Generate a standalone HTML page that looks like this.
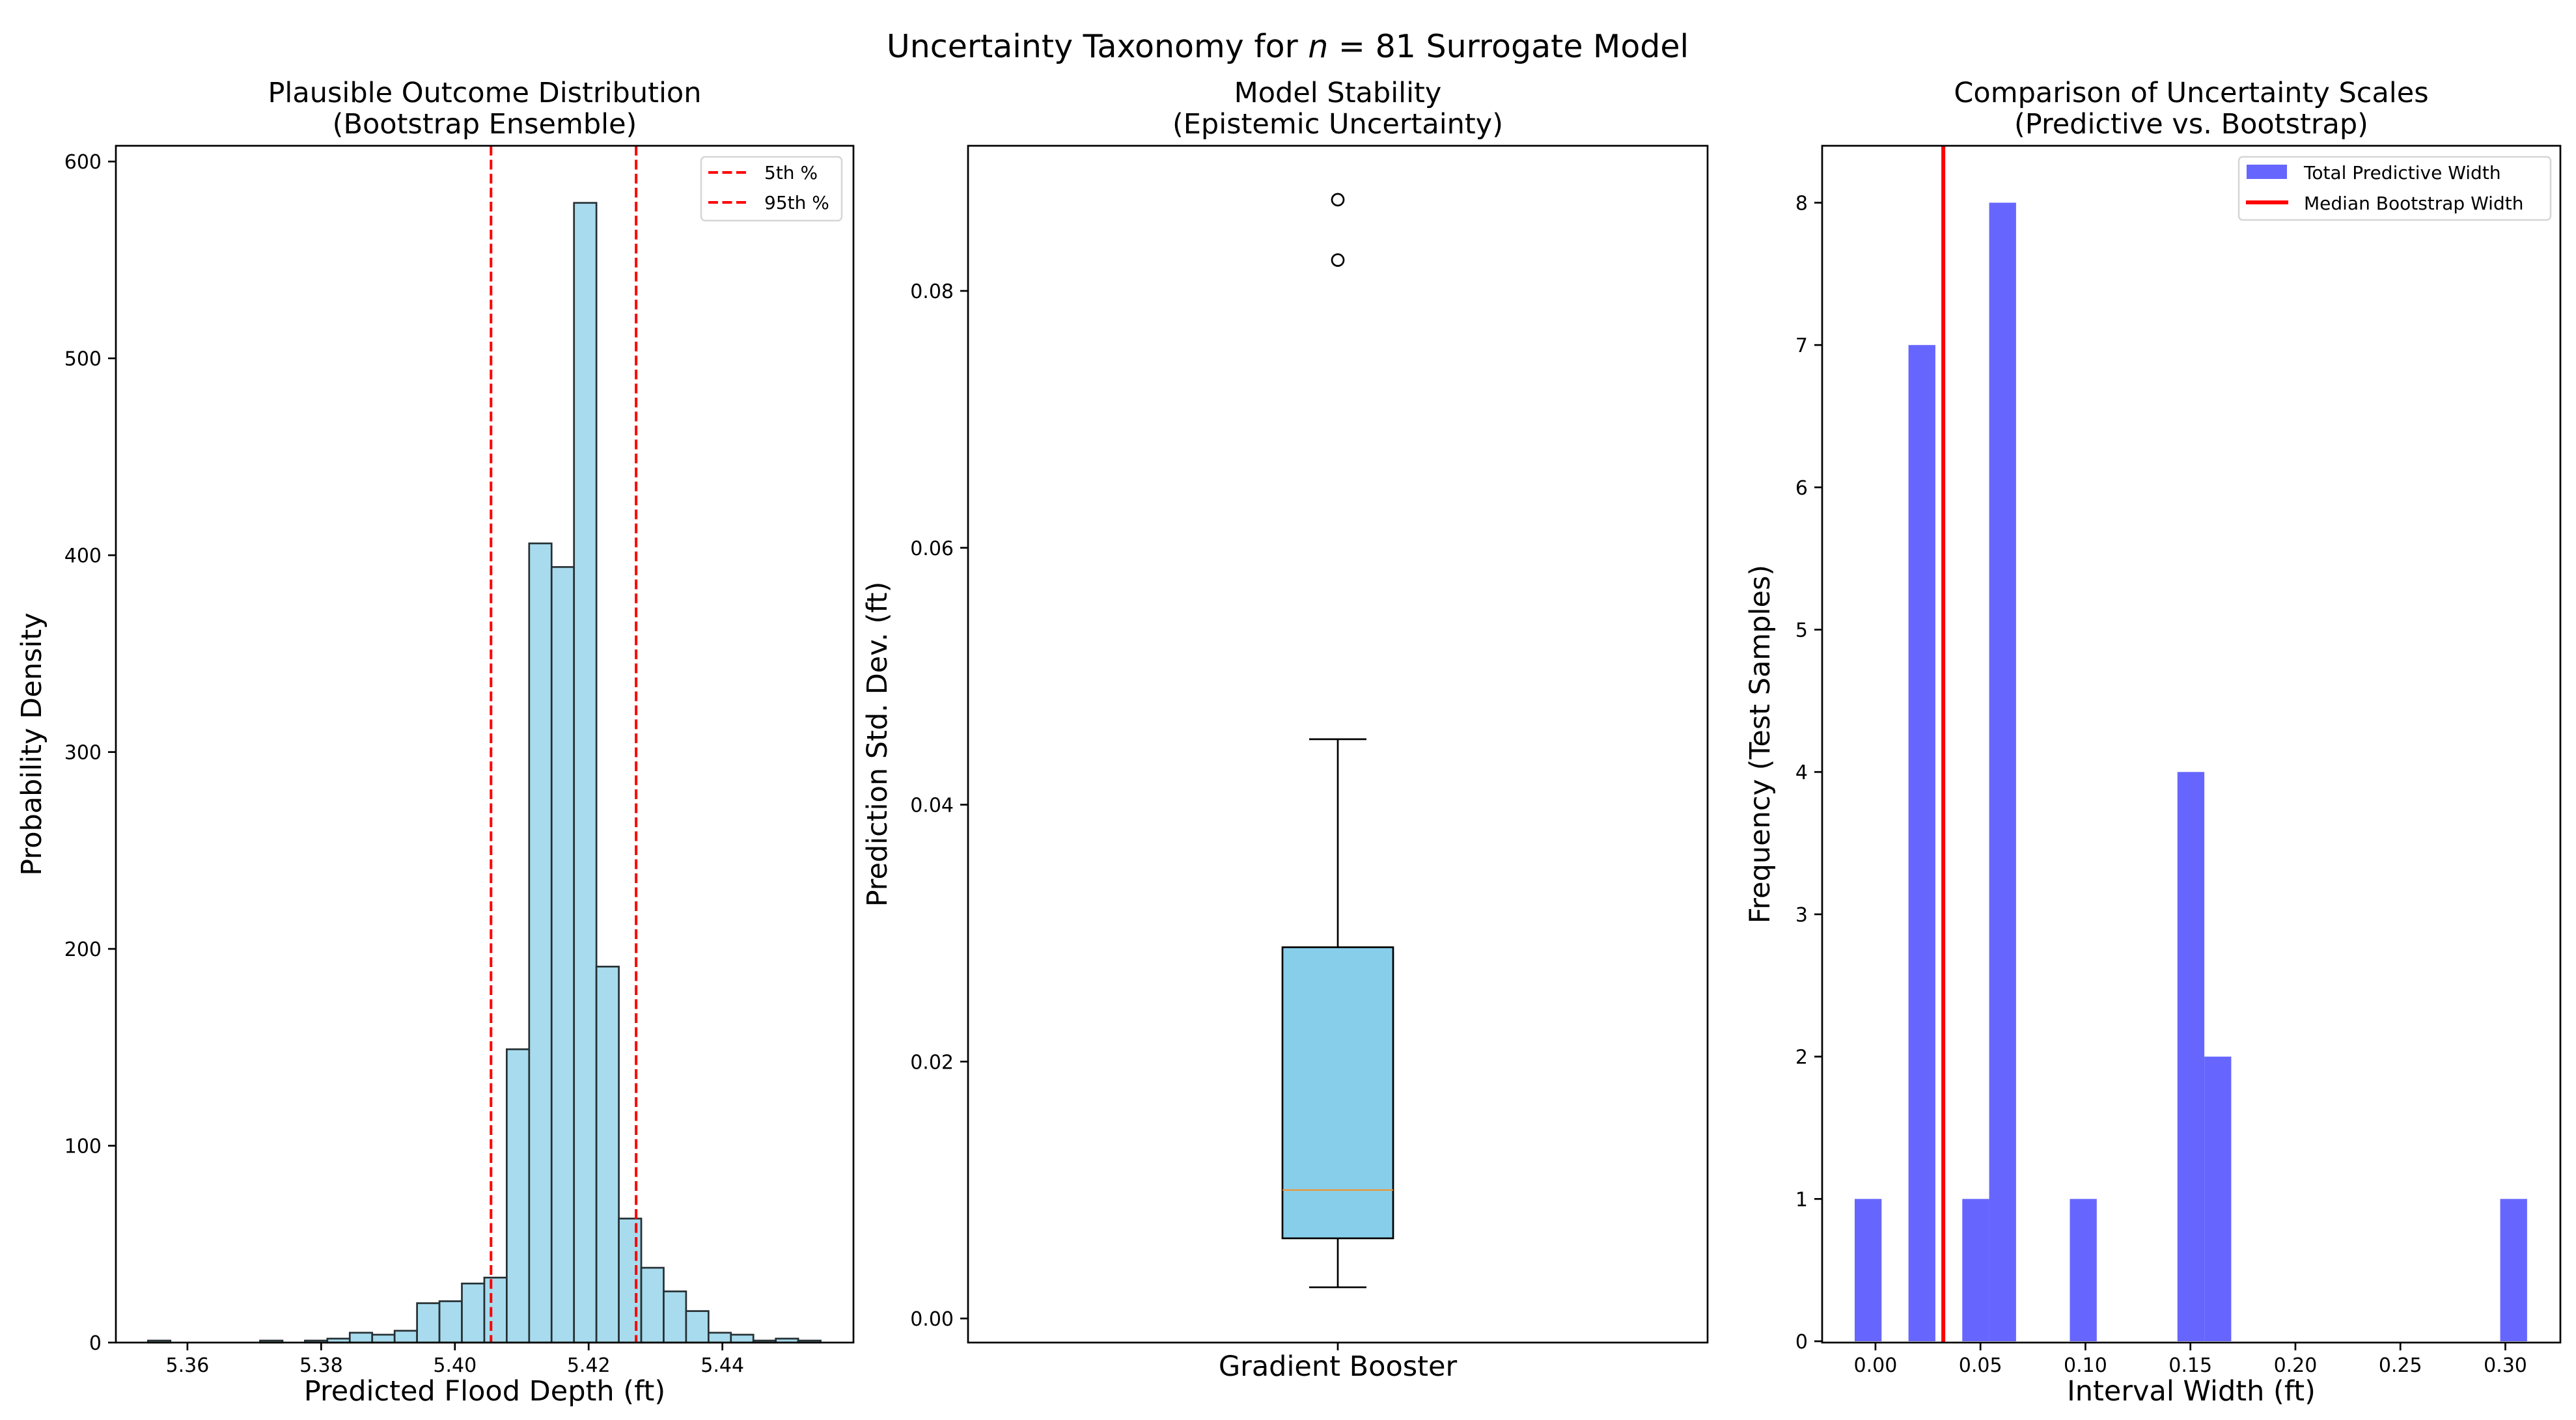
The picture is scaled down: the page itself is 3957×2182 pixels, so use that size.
<!DOCTYPE html>
<html><head><meta charset="utf-8"><style>
html,body{margin:0;padding:0;background:#fff;}
svg{display:block;font-family:"DejaVu Sans","Liberation Sans",sans-serif;}
</style></head><body>
<svg id="fig" width="3957" height="2182" viewBox="0 0 3957 2182" xmlns="http://www.w3.org/2000/svg">
<rect width="3957" height="2182" fill="#fff"/>
<text x="1978" y="88" font-size="49" text-anchor="middle">Uncertainty Taxonomy for <tspan font-style="italic">n</tspan> = 81 Surrogate Model</text>
<g id="p1"></g>
<g id="p2"></g>
<g id="p3"></g>
</svg>
<script>
// ---- Panel 1 data: bootstrap ensemble histogram ----
const histStart = 5.3541;
const histBinWidth = 0.003353;
const histCounts = [1,0,0,0,0,1,0,1,2,5,4,6,20,21,30,33,149,406,394,579,191,63,38,26,16,5,4,1,2,1];
const pctValues = [5.4054, 5.4271];
const pctLabels = ["5th %", "95th %"];
const xTicks1 = [5.36, 5.38, 5.40, 5.42, 5.44];
const xTickLabels1 = ["5.36","5.38","5.40","5.42","5.44"];
const yTicks1 = [0,100,200,300,400,500,600];
// ---- Panel 2 data: boxplot ----
const boxStats = {whiskLo:0.00243, q1:0.00624, median:0.0100, q3:0.0289, whiskHi:0.0451};
const boxOutliers = [0.0824, 0.0871];
const boxCategories = ["Gradient Booster"];
const yTicks2 = [0.00,0.02,0.04,0.06,0.08];
const yTickLabels2 = ["0.00","0.02","0.04","0.06","0.08"];
// ---- Panel 3 data: interval width histogram ----
const widthStart = -0.0099;
const widthBin = 0.01281;
const widthCounts = [1,0,7,0,1,8,0,0,1,0,0,0,4,2,0,0,0,0,0,0,0,0,0,0,1];
const medianBootstrap = [0.0323];
const xTicks3 = [0,0.05,0.10,0.15,0.20,0.25,0.30];
const xTickLabels3 = ["0.00","0.05","0.10","0.15","0.20","0.25","0.30"];
const yTicks3 = [0,1,2,3,4,5,6,7,8];

const NS="http://www.w3.org/2000/svg";
const TICKFS=30, LABFS=43, TITFS=43;
function mk(parent, tag, attrs, text){
  const e=document.createElementNS(NS,tag);
  for(const k in attrs) e.setAttribute(k,attrs[k]);
  if(text!==undefined) e.textContent=text;
  parent.appendChild(e); return e;
}
function scale(d0,d1,r0,r1){return v=>r0+(v-d0)/(d1-d0)*(r1-r0);}
const TOP=224, BOT=2063;

function frame(g, L, R, title1, title2){
  const cx=(L+R)/2;
  const t=mk(g,'text',{x:cx,y:157,'font-size':TITFS,'text-anchor':'middle'});
  
  
  mk(t,'tspan',{x:cx,y:157},title1);
  mk(t,'tspan',{x:cx,y:205},title2);
}
function spines(g,L,R){
  const r=mk(g,'rect',{x:L,y:TOP,width:R-L,height:BOT-TOP,fill:'none',stroke:'#000','stroke-width':2.7});
  
  
}
function yAxis(g,L,ys,ticks,labels,title,titleX){
  ticks.forEach((v,i)=>{
    const y=ys(v);
    mk(g,'line',{x1:L-12,x2:L,y1:y,y2:y,stroke:'#000','stroke-width':2.7});
    const t=mk(g,'text',{x:L-22,y:y+11,'font-size':TICKFS,'text-anchor':'end'},labels[i]);
    
    
  });
  const cy=(TOP+BOT)/2;
  const t=mk(g,'text',{x:titleX,y:cy,'font-size':LABFS,'text-anchor':'middle',transform:`rotate(-90 ${titleX} ${cy})`},title);
  
  
}
function xAxis(g,xs,ticks,labels,title,cx){
  ticks.forEach((v,i)=>{
    const x=xs(v);
    mk(g,'line',{x1:x,x2:x,y1:BOT,y2:BOT+12,stroke:'#000','stroke-width':2.7});
    const t=mk(g,'text',{x:x,y:2108,'font-size':TICKFS,'text-anchor':'middle'},labels[i]);
    
    
  });
  const t=mk(g,'text',{x:cx,y:2152,'font-size':LABFS,'text-anchor':'middle'},title);
  
  
}

// ---- Panel 1 ----
(function(){
  const g=document.getElementById('p1'); const L=178,R=1311;
  frame(g,L,R,'Plausible Outcome Distribution','(Bootstrap Ensemble)');
  const xs=scale(5.3493,5.4596,L,R), ys=scale(0,608,BOT,TOP);
  histCounts.forEach((c,i)=>{
    if(c<=0) return;
    const x0=xs(histStart+i*histBinWidth), x1=xs(histStart+(i+1)*histBinWidth);
    const b=mk(g,'rect',{x:x0,y:ys(c),width:x1-x0,height:BOT-ys(c),fill:'#a8dbee',stroke:'#263033','stroke-width':2.7});
    
    
  });
  pctValues.forEach(v=>{
    const l=mk(g,'line',{x1:xs(v),x2:xs(v),y1:TOP,y2:BOT,stroke:'#ff0000','stroke-width':4,'stroke-dasharray':'15 6.5'});
    
    
  });
  spines(g,L,R);
  yAxis(g,L,ys,yTicks1,yTicks1.map(String),'Probability Density',63);
  xAxis(g,xs,xTicks1,xTickLabels1,'Predicted Flood Depth (ft)',(L+R)/2);
  const lg=mk(g,'g',{});
  
  
  mk(lg,'rect',{x:1077,y:241,width:216,height:98,rx:6,fill:'#fff',stroke:'#d6d6d6','stroke-width':2.5,'fill-opacity':0.8});
  pctLabels.forEach((s,i)=>{
    const y=265+i*46;
    mk(lg,'line',{x1:1088,x2:1150,y1:y,y2:y,stroke:'#ff0000','stroke-width':4,'stroke-dasharray':'15 6.5'});
    const t=mk(lg,'text',{x:1174,y:y+10,'font-size':28},s);
    
    
  });
})();

// ---- Panel 2 ----
(function(){
  const g=document.getElementById('p2'); const L=1487,R=2623;
  frame(g,L,R,'Model Stability','(Epistemic Uncertainty)');
  const ys=scale(0,0.08,2026,447); const cx=2055, hw=85, cap=44;
  const s=boxStats;
  mk(g,'line',{x1:cx,x2:cx,y1:ys(s.whiskLo),y2:ys(s.q1),stroke:'#000','stroke-width':2.7});
  mk(g,'line',{x1:cx,x2:cx,y1:ys(s.q3),y2:ys(s.whiskHi),stroke:'#000','stroke-width':2.7});
  mk(g,'line',{x1:cx-cap,x2:cx+cap,y1:ys(s.whiskLo),y2:ys(s.whiskLo),stroke:'#000','stroke-width':2.7});
  mk(g,'line',{x1:cx-cap,x2:cx+cap,y1:ys(s.whiskHi),y2:ys(s.whiskHi),stroke:'#000','stroke-width':2.7});
  const b=mk(g,'rect',{x:cx-hw,y:ys(s.q3),width:2*hw,height:ys(s.q1)-ys(s.q3),fill:'#87ceeb',stroke:'#000','stroke-width':2.7});
  
  
  const m=mk(g,'line',{x1:cx-hw,x2:cx+hw,y1:ys(s.median),y2:ys(s.median),stroke:'#ff8c1a','stroke-width':2});
  
  
  boxOutliers.forEach(v=>{
    const c=mk(g,'circle',{cx:cx,cy:ys(v),r:9,fill:'none',stroke:'#000','stroke-width':2.7});
    
    
  });
  spines(g,L,R);
  yAxis(g,L,ys,yTicks2,yTickLabels2,'Prediction Std. Dev. (ft)',1362);
  mk(g,'line',{x1:cx,x2:cx,y1:BOT,y2:BOT+12,stroke:'#000','stroke-width':2.7});
  const t=mk(g,'text',{x:cx,y:2114,'font-size':LABFS,'text-anchor':'middle'},boxCategories[0]);
  
  
})();

// ---- Panel 3 ----
(function(){
  const g=document.getElementById('p3'); const L=2799,R=3933;
  frame(g,L,R,'Comparison of Uncertainty Scales','(Predictive vs. Bootstrap)');
  const xs=scale(-0.0254,0.3262,L,R), ys=scale(0,8.40,2061,TOP);
  widthCounts.forEach((c,i)=>{
    if(c<=0) return;
    const x0=xs(widthStart+i*widthBin), x1=xs(widthStart+(i+1)*widthBin);
    const b=mk(g,'rect',{x:x0,y:ys(c),width:x1-x0,height:ys(0)-ys(c),fill:'#6666ff'});
    
    
  });
  medianBootstrap.forEach(v=>{
    const l=mk(g,'line',{x1:xs(v),x2:xs(v),y1:TOP,y2:BOT,stroke:'#ff0000','stroke-width':6});
    
    
  });
  spines(g,L,R);
  yAxis(g,L,ys,yTicks3,yTicks3.map(String),'Frequency (Test Samples)',2718);
  xAxis(g,xs,xTicks3,xTickLabels3,'Interval Width (ft)',(L+R)/2);
  const lg=mk(g,'g',{});
  
  
  mk(lg,'rect',{x:3439,y:241,width:479,height:97,rx:6,fill:'#fff',stroke:'#d6d6d6','stroke-width':2.5,'fill-opacity':0.8});
  mk(lg,'rect',{x:3451,y:253,width:62,height:22,fill:'#6666ff'});
  const t1=mk(lg,'text',{x:3539,y:275,'font-size':28},'Total Predictive Width');
  
  
  mk(lg,'line',{x1:3450,x2:3515,y1:311,y2:311,stroke:'#ff0000','stroke-width':6});
  const t2=mk(lg,'text',{x:3539,y:322,'font-size':28},'Median Bootstrap Width');
  
  
})();
</script>
</body></html>
